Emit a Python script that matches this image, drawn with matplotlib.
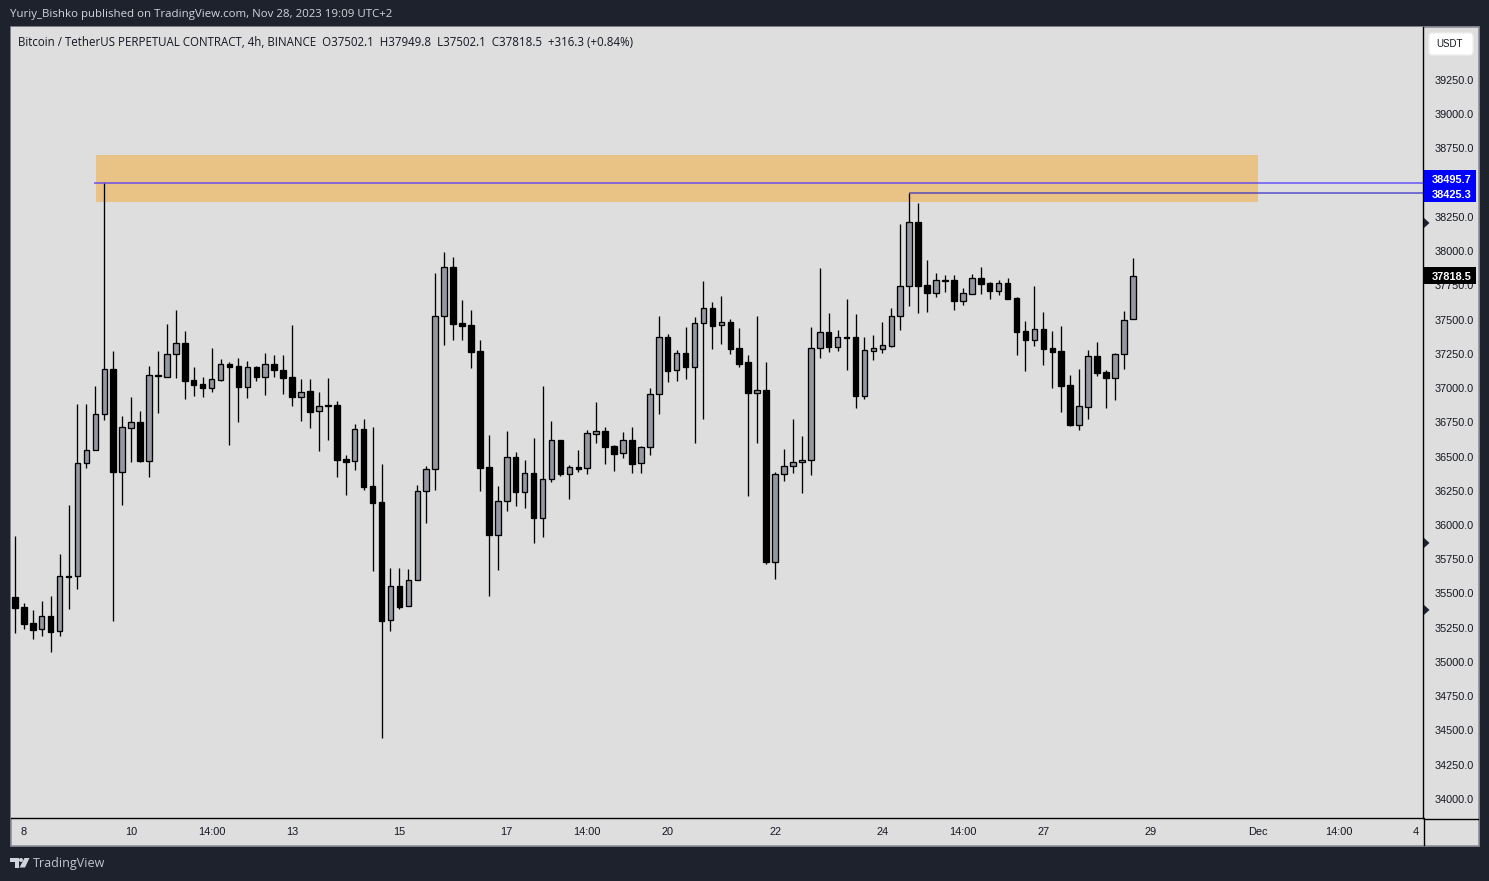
import matplotlib
matplotlib.use('Agg')
import matplotlib.pyplot as plt
from matplotlib.patches import Rectangle, FancyBboxPatch, Polygon, Circle

W, H = 1489, 881

opens = [35472, 35399, 35282, 35238, 35333, 35224, 35625, 35625, 36450, 36545, 36808, 37137, 36389, 36711, 36750, 36470,
         37093, 37083, 37246, 37326, 37056, 37027, 37003, 37061, 37173, 37158, 37010, 37154, 37083, 37173, 37129, 37081,
         36932, 36976, 36830, 36874, 36874, 36482, 36465, 36699, 36282, 36166, 35304, 35552, 35406, 35596, 36246, 36407,
         37523, 37881, 37472, 37460, 37268, 36421, 35930, 36173, 36494, 36243, 36377, 36054, 36333, 36618, 36375, 36424,
         36414, 36667, 36684, 36574, 36523, 36618, 36450, 36567, 36954, 37370, 37129, 37253, 37156, 37472, 37582, 37458,
         37480, 37290, 37188, 36966, 36983, 35733, 36370, 36428, 36458, 36472, 37290, 37407, 37302, 37370, 37370, 36944,
         37273, 37287, 37309, 37523, 37742, 38210, 37750, 37696, 37786, 37786, 37638, 37689, 37801, 37767, 37711, 37767,
         37657, 37416, 37351, 37431, 37292, 37270, 37022, 36733, 36864, 37231, 37114, 37076, 37246, 37502.1]
highs = [35920, 35428, 35380, 35445, 35482, 35789, 36146, 36883, 36883, 37015, 38495.7, 37270, 36796, 36935, 36832, 37161,
         37270, 37467, 37570, 37416, 37154, 37081, 37292, 37212, 37188, 37219, 37197, 37161, 37256, 37241, 37241, 37460,
         37064, 37064, 36969, 37073, 36903, 36511, 36737, 36774, 36716, 36445, 35686, 35686, 35679, 36292, 36431, 37840,
         37991, 37954, 37643, 37570, 37351, 36657, 36285, 36686, 36533, 36475, 36635, 37015, 36759, 36618, 36436, 36548,
         36694, 36898, 36713, 36584, 36677, 36716, 36577, 37000, 37526, 37394, 37278, 37446, 37519, 37781, 37626, 37669,
         37502, 37436, 37241, 37526, 37190, 36387, 36555, 36774, 36650, 37446, 37876, 37548, 37424, 37650, 37540, 37373,
         37387, 37482, 37584, 38197, 38425.3, 38351, 37935, 37840, 37825, 37825, 37730, 37832, 37884, 37774, 37789, 37803,
         37665, 37489, 37745, 37555, 37416, 37453, 37095, 37139, 37278, 37336, 37132, 37256, 37562, 37949.8]
lows = [35214, 35243, 35170, 35192, 35075, 35192, 35389, 35535, 36419, 36545, 36769, 35302, 36149, 36462, 36462, 36353,
        36820, 37083, 37076, 36922, 36944, 36937, 36974, 37054, 36587, 36755, 36930, 37054, 36952, 37083, 36959, 36871,
        36762, 36711, 36543, 36623, 36353, 36222, 36402, 36258, 35667, 34448, 35229, 35389, 35406, 35596, 36017, 36258,
        37314, 37353, 37353, 37149, 36251, 35484, 35672, 36105, 36141, 36127, 35871, 35915, 36316, 36360, 36192, 36390,
        36370, 36601, 36448, 36397, 36492, 36382, 36382, 36514, 36813, 37047, 37054, 37068, 36601, 36776, 37287, 37324,
        37251, 37156, 36214, 36601, 35718, 35608, 36324, 36382, 36236, 36367, 37222, 37265, 37273, 37134, 36857, 36922,
        37205, 37258, 37302, 37424, 37599, 37548, 37555, 37665, 37701, 37570, 37606, 37689, 37686, 37650, 37679, 37650,
        37241, 37124, 37307, 37168, 37000, 36825, 36723, 36694, 36774, 37090, 36854, 36913, 37139, 37502.1]
closes = [35397, 35280, 35236, 35333, 35221, 35625, 35623, 36450, 36545, 36808, 37137, 36389, 36713, 36750, 36467, 37093,
          37090, 37246, 37326, 37054, 37024, 37003, 37064, 37173, 37156, 37010, 37151, 37083, 37173, 37129, 37076, 36937,
          36974, 36827, 36866, 36871, 36477, 36462, 36699, 36280, 36163, 35302, 35552, 35404, 35596, 36246, 36407, 37523,
          37881, 37470, 37453, 37266, 36419, 35930, 36173, 36494, 36243, 36377, 36054, 36333, 36618, 36375, 36421, 36409,
          36669, 36684, 36572, 36521, 36618, 36448, 36567, 36954, 37370, 37127, 37253, 37156, 37472, 37582, 37455, 37480,
          37287, 37178, 36966, 36983, 35733, 36370, 36428, 36458, 36472, 37290, 37407, 37302, 37370, 37368, 36944, 37275,
          37290, 37312, 37523, 37742, 38210, 37747, 37696, 37786, 37784, 37638, 37691, 37801, 37759, 37708, 37764, 37650,
          37409, 37351, 37429, 37285, 37263, 37015, 36730, 36866, 37231, 37112, 37073, 37246, 37494, 37818.5]

time_ticks = [1, 13, 22, 31, 43, 55, 64, 73, 85, 97, 106, 115, 127, 139, 148, 157]
time_labels = ['8', '10', '14:00', '13', '15', '17', '14:00', '20', '22', '24', '14:00', '27', '29', 'Dec', '14:00', '4']
# 38500.0 sits behind the blue price tags in the reference, so it is left out
price_ticks = [34000 + 250 * i for i in range(22) if 34000 + 250 * i != 38500]

zone_x = [9.05, 139]
zone_low, zone_high = 38358, 38701
level_a, level_b = 38495.7, 38425.3
level_a_start, level_b_start = 9, 100
last_price = 37818.5
axis_marks = [38205, 35869, 35380]

DARK = '#1e222d'
PANEL = '#dedede'
UP = '#9598a1'

plt.rcParams['font.family'] = ['Liberation Sans', 'DejaVu Sans']

fig = plt.figure(figsize=(W / 100, H / 100), dpi=100, facecolor=DARK)

# pixel overlay for the frame, header and logo
bg = fig.add_axes([0, 0, 1, 1])
bg.set_xlim(0, W)
bg.set_ylim(H, 0)
bg.axis('off')
bg.add_patch(Rectangle((10.5, 27), 1468, 818.5, fc=PANEL, ec='#8f929b', lw=1.2))
bg.text(10, 15, 'Yuriy_Bishko published on TradingView.com, Nov 28, 2023 19:09 UTC+2',
        family='Open Sans', fontsize=8.25, color='#d1d4dc', va='center', ha='left')
bg.text(33, 864, 'TradingView', family='Open Sans', fontsize=9.0, color='#c3c6ce', va='center', ha='left')
bg.add_patch(Polygon([(10, 858), (19, 858), (19, 867.5), (14.5, 867.5), (14.5, 862), (10, 862)], fc='#d1d4dc', ec='none'))
bg.add_patch(Circle((21, 860), 2, fc='#d1d4dc', ec='none'))
bg.add_patch(Polygon([(24.5, 858), (29.5, 858), (25, 867.5), (19.5, 867.5)], fc='#d1d4dc', ec='none'))

# chart axes
ax = fig.add_axes([11 / W, 1 - 818 / H, (1423 - 11) / W, (818 - 27) / H])
ax.set_facecolor(PANEL)
ax.set_xlim(-0.43, 157.45)
ax.set_ylim(33861, 39635.6)
for s in ['left', 'top']:
    ax.spines[s].set_visible(False)
for s in ['right', 'bottom']:
    ax.spines[s].set_color('black')
    ax.spines[s].set_linewidth(1.0)

ax.add_patch(Rectangle((zone_x[0], zone_low), zone_x[1] - zone_x[0], zone_high - zone_low,
                       fc='#e9c386', ec='none', zorder=1))

xs = list(range(len(opens)))
ax.vlines(xs, lows, highs, color='black', lw=0.95, zorder=2)
for i in xs:
    top, bot = max(opens[i], closes[i]), min(opens[i], closes[i])
    col = UP if closes[i] > opens[i] else 'black'
    ax.bar(i, top - bot, width=0.62, bottom=bot, color=col, edgecolor='black', linewidth=0.95, zorder=3)

ax.hlines(level_a, level_a_start - 0.1, 157.45, color='#4a30ff', lw=1.1, alpha=0.8, zorder=4)
ax.hlines(level_b, level_b_start, 157.45, color='#2a20c8', lw=1.1, alpha=0.75, zorder=4)

ax.yaxis.tick_right()
ax.set_yticks(price_ticks)
ax.set_yticklabels([f'{p:.1f}' for p in price_ticks], fontsize=7.8, color='#131722')
ax.set_xticks(time_ticks)
ax.set_xticklabels(time_labels, fontsize=7.9, color='#131722')
ax.tick_params(axis='y', length=0, pad=8.5)
ax.tick_params(axis='x', length=0, pad=6.5)
ax.get_xticklabels()[-1].set_ha('right')

# pixel overlay on top: header line, currency button, price tags
top_ax = fig.add_axes([0, 0, 1, 1])
top_ax.set_xlim(0, W)
top_ax.set_ylim(H, 0)
top_ax.axis('off')
top_ax.patch.set_alpha(0)
top_ax.text(18, 42, 'Bitcoin / TetherUS PERPETUAL CONTRACT, 4h, BINANCE  O37502.1  H37949.8  L37502.1  C37818.5  +316.3 (+0.84%)',
            family='Open Sans', fontsize=8.3, color='#131722', va='center', ha='left')
top_ax.add_patch(FancyBboxPatch((1429, 33), 44, 22, boxstyle='round,pad=0,rounding_size=3', fc='white', ec='#eeeeee', lw=1))
top_ax.text(1449, 44, 'USDT', fontsize=7.0, color='#131722', va='center', ha='center')


def price_to_px(p):
    y0, y1 = ax.get_ylim()
    return 818 - (p - y0) / (y1 - y0) * (818 - 27)


top_ax.add_patch(Rectangle((1424, 170), 51.5, 32, fc='#0000ff', ec='none'))
top_ax.text(1452, 180, f'{level_a:.1f}', fontsize=7.9, fontweight='bold', color='white', va='center', ha='center')
top_ax.text(1452, 195, f'{level_b:.1f}', fontsize=7.9, fontweight='bold', color='white', va='center', ha='center')
y_last = price_to_px(last_price)
top_ax.add_patch(Rectangle((1424, y_last - 8.5), 51.5, 17, fc='black', ec='none'))
top_ax.text(1452, y_last + 1, f'{last_price:.1f}', fontsize=7.9, fontweight='bold', color='white', va='center', ha='center')
for p in axis_marks:
    y = price_to_px(p)
    top_ax.add_patch(Polygon([(1424, y - 5), (1429.5, y), (1424, y + 5)], fc=DARK, ec='none'))
top_ax.plot([1423.5, 1423.5], [818, 845], color='black', lw=1.0)
top_ax.plot([1423.5, 1478], [818.5, 818.5], color='black', lw=1.0)

fig.savefig('out.png', dpi=100, facecolor=DARK)
